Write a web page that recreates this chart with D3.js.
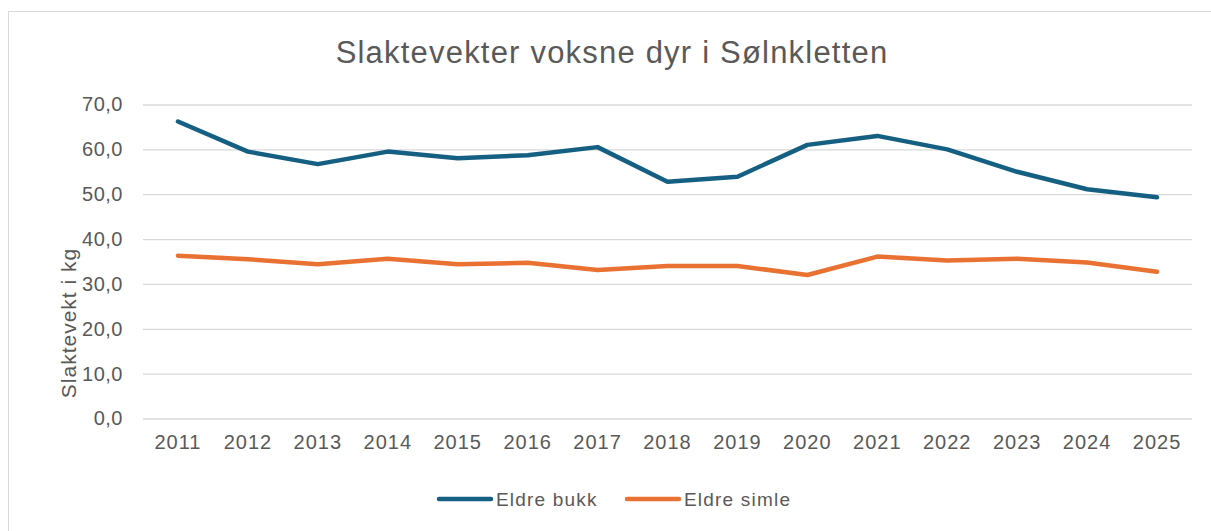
<!DOCTYPE html>
<html>
<head>
<meta charset="utf-8">
<script src="https://cdn.jsdelivr.net/npm/d3@7"></script>
<style>
  html, body { margin: 0; padding: 0; background: #fff; }
  svg { display: block; font-family: "Liberation Sans", Arial, sans-serif; }
</style>
</head>
<body>
<svg width="1211" height="531"></svg>
<script>
const years = ["2011","2012","2013","2014","2015","2016","2017","2018","2019","2020","2021","2022","2023","2024","2025"];
const eldreBukk = [66.2, 59.5, 56.7, 59.5, 58.0, 58.7, 60.5, 52.8, 53.9, 61.0, 63.0, 60.0, 55.0, 51.1, 49.3];
const eldreSimle = [36.3, 35.5, 34.4, 35.6, 34.4, 34.7, 33.1, 34.0, 34.0, 32.0, 36.1, 35.2, 35.6, 34.8, 32.7];
const yTicks = [0, 10, 20, 30, 40, 50, 60, 70];

const series = [
  {name: "Eldre bukk", values: eldreBukk, color: "#156082"},
  {name: "Eldre simle", values: eldreSimle, color: "#E97132"}
];

const svg = d3.select("svg");
const textColor = "#595959";

// chart frame
svg.append("rect")
    .attr("x", 8.5).attr("y", 11.5)
    .attr("width", 1220).attr("height", 540)
    .attr("fill", "#fff")
    .attr("stroke", "#d9d9d9");

const plot = {left: 143, right: 1192, top: 104.5, bottom: 418.5};

const x = d3.scaleBand().domain(years).range([plot.left, plot.right]);
const y = d3.scaleLinear().domain([0, 70]).range([plot.bottom, plot.top]);

// title
svg.append("text")
    .attr("x", 612).attr("y", 63)
    .attr("text-anchor", "middle")
    .attr("fill", textColor)
    .style("font-size", "31px")
    .style("letter-spacing", "1.2px")
    .text("Slaktevekter voksne dyr i Sølnkletten");

// grid
const yAxis = d3.axisLeft(y)
    .tickValues(yTicks)
    .tickSize(-(plot.right - plot.left))
    .tickPadding(20)
    .tickFormat(d => d3.format(".1f")(d).replace(".", ","));

const gy = svg.append("g")
    .attr("transform", `translate(${plot.left},0)`)
    .call(yAxis);
gy.select(".domain").remove();
gy.selectAll(".tick line").attr("stroke", "#d9d9d9").attr("stroke-width", 1.3);
gy.selectAll(".tick text")
    .attr("fill", textColor)
    .style("font-size", "20px")
    .style("letter-spacing", "0.5px");

const xAxis = d3.axisBottom(x).tickSize(0).tickPadding(16);
const gx = svg.append("g")
    .attr("transform", `translate(0,${plot.bottom})`)
    .call(xAxis);
gx.select(".domain").remove();
gx.selectAll(".tick text")
    .attr("fill", textColor)
    .style("font-size", "20px")
    .style("letter-spacing", "1px");

// y axis title
svg.append("text")
    .attr("transform", "translate(76,323) rotate(-90)")
    .attr("text-anchor", "middle")
    .attr("fill", textColor)
    .style("font-size", "21px")
    .style("letter-spacing", "1px")
    .text("Slaktevekt i kg");

// lines
const line = d3.line()
    .x((d, i) => x(years[i]) + x.bandwidth() / 2)
    .y(d => y(d));

svg.selectAll("path.series")
  .data(series)
  .enter().append("path")
    .attr("class", "series")
    .attr("d", d => line(d.values))
    .attr("fill", "none")
    .attr("stroke", d => d.color)
    .attr("stroke-width", 4.5)
    .attr("stroke-linejoin", "round")
    .attr("stroke-linecap", "round");

// legend
const legendX = [439, 627];
const legend = svg.selectAll("g.legend")
  .data(series)
  .enter().append("g")
    .attr("class", "legend")
    .attr("transform", (d, i) => `translate(${legendX[i]},499)`);
legend.append("line")
    .attr("x1", 0).attr("x2", 52)
    .attr("stroke", d => d.color)
    .attr("stroke-width", 4.5)
    .attr("stroke-linecap", "round");
legend.append("text")
    .attr("x", 57).attr("y", 7)
    .attr("fill", textColor)
    .style("font-size", "19px")
    .style("letter-spacing", "1.2px")
    .text(d => d.name);
</script>
</body>
</html>
